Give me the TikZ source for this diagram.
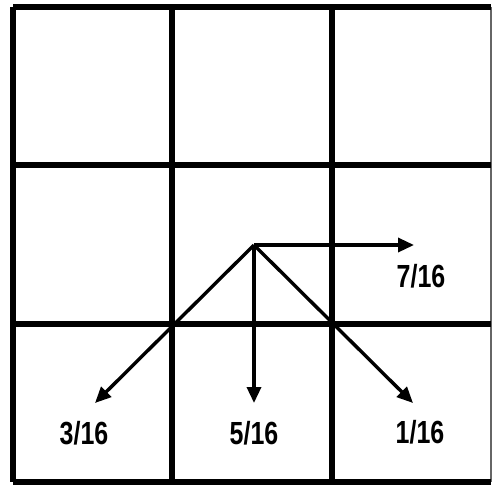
\documentclass[tikz,border=0pt]{standalone}
\usepackage{fontspec}
\setmainfont{Liberation Sans}[FakeStretch=0.78]
\usetikzlibrary{arrows.meta}
\begin{document}
\begin{tikzpicture}[x=0.5pt,y=-0.5pt,
grid/.style={line width=2.8pt},
frac/.style={font=\fontsize{16}{18}\selectfont\bfseries, inner sep=0pt},
edge/.style={-{Triangle[length=8pt,width=7pt]}, line width=1.7pt}
]
\useasboundingbox (0,0) rectangle (493,484);
% grid
\draw[grid] (13,7) -- (13,482);
\draw[grid] (172,7) -- (172,482);
\draw[grid] (332,7) -- (332,482);
\draw[line width=1pt, black!60] (491,7) -- (491,482);
\draw[grid] (13,7) -- (491,7);
\draw[grid] (13,165) -- (491,165);
\draw[grid] (13,324) -- (491,324);
\draw[grid] (13,482) -- (491,482);

\coordinate (src) at (254,245);
\coordinate (east) at (414,245);
\coordinate (sw) at (95,403);
\coordinate (south) at (254,403);
\coordinate (se) at (413,403);

\draw[edge] (src) -- (east);
\draw[edge] (src) -- (sw);
\draw[edge] (src) -- (south);
\draw[edge] (src) -- (se);

\node[frac] (w7) at (421,276) {7/16};
\node[frac] (w3) at (84,433) {3/16};
\node[frac] (w5) at (254,433) {5/16};
\node[frac] (w1) at (420,432) {1/16};
\end{tikzpicture}
\end{document}
